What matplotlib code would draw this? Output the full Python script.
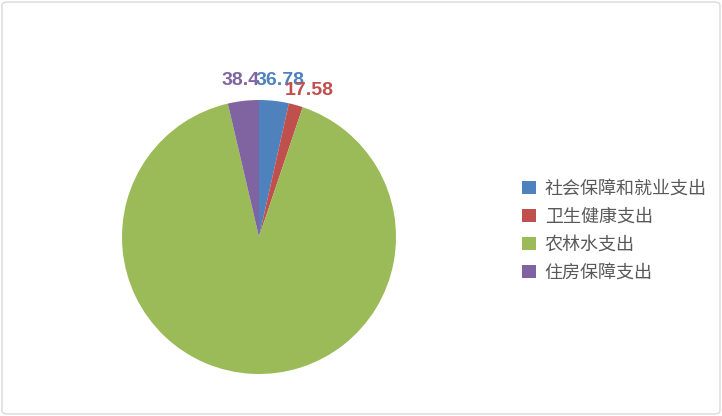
import matplotlib
matplotlib.use("Agg")
import matplotlib.pyplot as plt
from matplotlib.patches import FancyBboxPatch, Patch
import numpy as np

plt.rcParams['font.family'] = ['Noto Sans CJK SC', 'DejaVu Sans']

categories = ["社会保障和就业支出", "卫生健康支出", "农林水支出", "住房保障支出"]
values = [36.78, 17.58, 958.0, 38.4]
value_labels = ["36.78", "17.58", "", "38.4"]
colors = ["#4F81BD", "#C0504D", "#9BBB59", "#8064A2"]

W, H = 722, 416
fig = plt.figure(figsize=(W / 100, H / 100), dpi=100)

# chart border
border = FancyBboxPatch((2 / W, 2 / H), 1 - 4 / W, 1 - 4 / H,
                        boxstyle="round,pad=0,rounding_size=0.008",
                        transform=fig.transFigure, facecolor="none",
                        edgecolor="#D9D9D9", linewidth=1.0, zorder=-1)
fig.patches.append(border)

cx, cy, r = 259, H - 237, 137
ax = fig.add_axes([(cx - r) / W, (cy - r) / H, 2 * r / W, 2 * r / H])
wedges, _ = ax.pie(values, colors=colors, startangle=90, counterclock=False,
                   radius=1.0, wedgeprops=dict(linewidth=0))
ax.set_xlim(-1, 1)
ax.set_ylim(-1, 1)
ax.set_aspect('equal')
ax.axis('off')

offsets = [(3, 0), (6, -3.6), (0, 0), (0, 0)]
for w, lab, col, off in zip(wedges, value_labels, colors, offsets):
    if not lab:
        continue
    ang = np.deg2rad((w.theta1 + w.theta2) / 2)
    ax.annotate(lab, (1.15 * np.cos(ang), 1.15 * np.sin(ang)),
                xytext=off, textcoords='offset points',
                ha='center', va='center', color=col, fontsize=14,
                fontweight='bold', family=['Liberation Sans', 'DejaVu Sans'],
                annotation_clip=False)

handles = [Patch(facecolor=c, edgecolor='none') for c in colors]
leg = fig.legend(handles, categories, loc='center left',
                 bbox_to_anchor=(506 / W, (H - 231) / H), frameon=False,
                 fontsize=13, handlelength=0.75, handleheight=0.75,
                 handletextpad=0.5, labelspacing=0.55)
for t in leg.get_texts():
    t.set_color("#595959")

fig.savefig("out.png", dpi=100)
